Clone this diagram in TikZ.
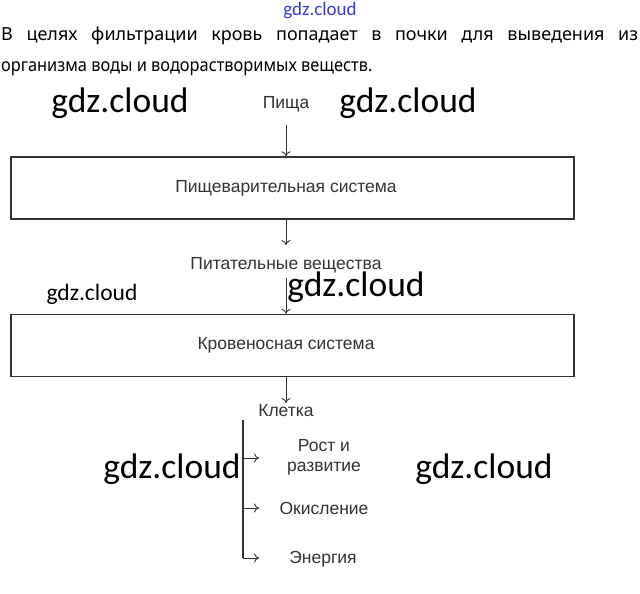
\documentclass[tikz,border=0pt]{standalone}
\usepackage{fontspec}
\setmainfont{Liberation Sans}
\newfontfamily\parafont{Noto Sans}
\newfontfamily\diafont{Liberation Sans}
\newfontfamily\wmfont{Carlito}
\usetikzlibrary{arrows.meta}
\definecolor{ink}{HTML}{333333}
\definecolor{wmblue}{HTML}{3A3AD0}
\tikzset{
  lbl/.style={font=\diafont\fontsize{17.5}{20}\selectfont, text=ink, inner sep=0pt},
  flowbox/.style={draw=ink, line width=1.4pt, minimum width=563pt, minimum height=62pt, inner sep=0pt,
    font=\diafont\fontsize{17.5}{20}\selectfont, text=ink},
  arr/.style={draw=ink, line width=0.9pt, -{To[length=5pt,width=9pt]}},
  stem/.style={draw=ink, line width=1.2pt},
  wmbig/.style={font=\wmfont\fontsize{35.5}{40}\selectfont, text=black, inner sep=0pt},
  wmsmall/.style={font=\wmfont\fontsize{23.5}{27}\selectfont, text=black, inner sep=0pt},
  wmtop/.style={font=\wmfont\fontsize{19}{22}\selectfont, text=wmblue, inner sep=0pt},
  para/.style={font=\parafont\fontsize{18}{22}\selectfont, text=black, inner sep=0pt, anchor=base west},
}
\begin{document}
\begin{tikzpicture}[x=1pt,y=-1pt]
\useasboundingbox[fill=white] (0,0) rectangle (640,594);

% header texts
\node[wmtop] (wm0) at (320,11) {gdz.cloud};
\node[para] (p1) at (1,41) {\makebox[637pt][s]{В целях фильтрации кровь попадает в почки для выведения из}};
\node[para] (p2) at (1,72) {\scalebox{0.91}[1]{организма воды и водорастворимых веществ.}};

% watermarks
\node[wmbig] (wm1) at (120,103) {gdz.cloud};
\node[wmbig] (wm2) at (408,103) {gdz.cloud};
\node[wmsmall] (wm3) at (92,294) {gdz.cloud};
\node[wmbig] (wm4) at (356,287) {gdz.cloud};
\node[wmbig] (wm5) at (172,469) {gdz.cloud};
\node[wmbig] (wm6) at (484,469) {gdz.cloud};

% flow
\node[lbl] (pisha) at (286,104) {Пища};
\node[flowbox] (dig) at (292.5,188) {\kern-13pt Пищеварительная система};
\node[lbl] (pit) at (286,265) {Питательные вещества};
\node[flowbox] (krov) at (292.5,345.5) {\kern-13pt Кровеносная система};
\node[lbl] (klet) at (286,411) {Клетка};

\node[lbl, align=center] (rost) at (324,457) {Рост и\\развитие};
\node[lbl] (okis) at (324,508) {Окисление};
\node[lbl] (energ) at (323,559) {Энергия};

\draw[arr] (286,125) -- (pisha |- dig.north);
\draw[arr] (pisha |- dig.south) -- (286,245);
\draw[arr] (286,278) -- (pisha |- krov.north);
\draw[arr] (pisha |- krov.south) -- (286,403);

\coordinate (vtop) at (243,420);
\coordinate (vbot) at (243,558);
\coordinate (e1) at (259,458);
\coordinate (e2) at (259,508);
\coordinate (e3) at (259,558);
\draw[stem] (vtop) -- (vbot);
\draw[arr] (vtop |- e1) -- (e1);
\draw[arr] (vtop |- e2) -- (e2);
\draw[arr] (vbot) -- (e3);
\end{tikzpicture}
\end{document}
